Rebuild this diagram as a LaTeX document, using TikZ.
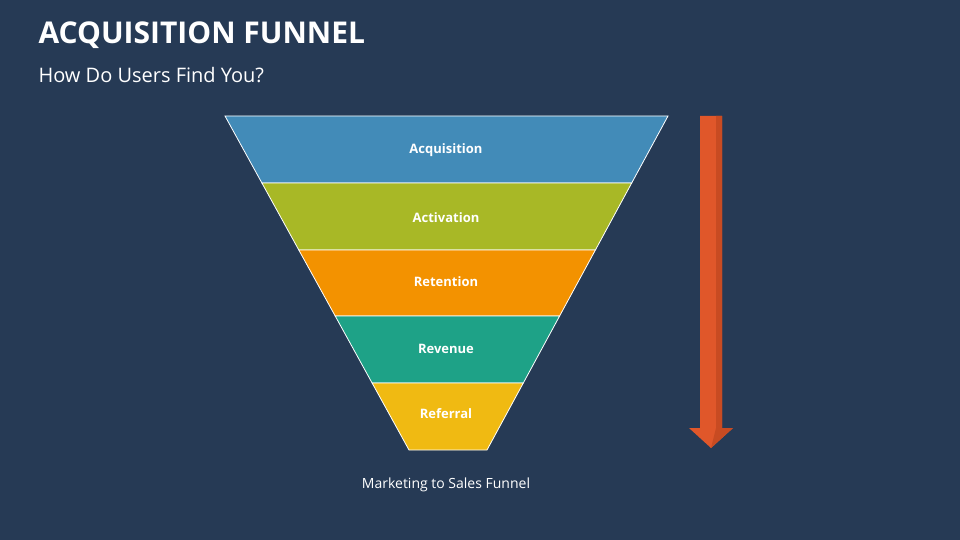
\documentclass[tikz,border=0pt]{standalone}
\usepackage{fontspec}
\setmainfont{Open Sans}
\definecolor{bg}{HTML}{263A55}
\definecolor{cA}{HTML}{428BB8}
\definecolor{cB}{HTML}{A8B826}
\definecolor{cC}{HTML}{F39200}
\definecolor{cD}{HTML}{1EA287}
\definecolor{cE}{HTML}{F0BA12}
\definecolor{arr}{HTML}{E0572A}
\definecolor{arrd}{HTML}{C84B22}
\begin{document}
\begin{tikzpicture}[x=1pt,y=-1pt,
 band/.style={draw=white,line width=0.8pt},
 lbl/.style={text=white,font=\bfseries\fontsize{13}{15}\selectfont}]
\fill[bg] (0,0) rectangle (960,540);
\useasboundingbox (0,0) rectangle (960,540);
\node[anchor=west,text=white,font=\bfseries\fontsize{30}{35}\selectfont] (title) at (35,35) {ACQUISITION FUNNEL};
\node[anchor=west,text=white,font=\fontsize{20}{24}\selectfont] (sub) at (35,75) {How Do Users Find You?};
\fill[cA,band] (225,116) -- (668,116) -- (631.7,183) -- (261.9,183) -- cycle;
\fill[cB,band] (261.9,183) -- (631.7,183) -- (595.4,250) -- (298.8,250) -- cycle;
\fill[cC,band] (298.8,250) -- (595.4,250) -- (559.6,316) -- (335.2,316) -- cycle;
\fill[cD,band] (335.2,316) -- (559.6,316) -- (523.3,383) -- (372.1,383) -- cycle;
\fill[cE,band] (372.1,383) -- (523.3,383) -- (487,450) -- (409,450) -- cycle;
\node[lbl] (a) at (446,150) {Acquisition};
\node[lbl] (b) at (446,218) {Activation};
\node[lbl] (c) at (446,282) {Retention};
\node[lbl] (d) at (446,349) {Revenue};
\node[lbl] (e) at (446,414) {Referral};
\node[text=white,font=\fontsize{14}{16}\selectfont] (foot) at (446,485) {Marketing to Sales Funnel};
\fill[arr] (700,116) -- (722,116) -- (722,428) -- (733,428) -- (711,448) -- (689,428) -- (700,428) -- cycle;
\fill[arrd] (716,116) -- (722,116) -- (722,428) -- (733,428) -- (711,448) -- (716,428) -- cycle;
\end{tikzpicture}
\end{document}
